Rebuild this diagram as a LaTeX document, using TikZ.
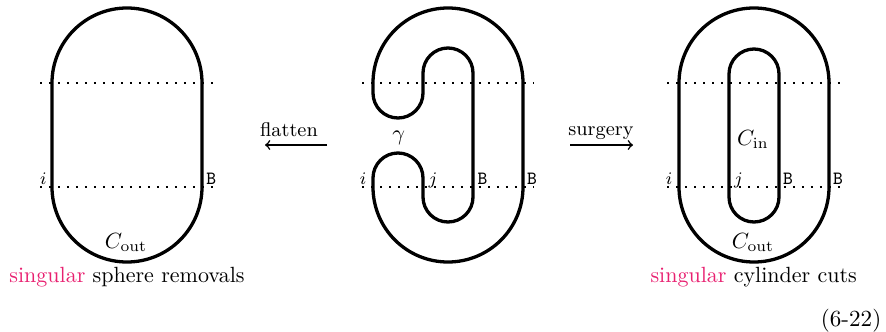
\documentclass[tikz,border=0pt]{standalone}
\usepackage{xcolor}
\definecolor{pinkred}{RGB}{232,32,112}
\begin{document}
\begin{tikzpicture}[x=0.4545pt,y=0.4545pt,
  curve/.style={line width=1.5pt, line join=round},
  dotline/.style={line width=0.9pt, dash pattern=on 0.9pt off 3.19pt},
  lbl/.style={inner sep=0pt, anchor=base, font=\fontsize{8.5}{10}\selectfont},
  txt/.style={inner sep=0pt, anchor=base},
  maplbl/.style={inner sep=0pt, anchor=base, font=\small},
  maparrow/.style={line width=0.7pt, ->}]
\useasboundingbox (0,0) rectangle (886,331);

% dotted levels
\draw[dotline] (40,248) -- (214,248);
\draw[dotline] (40,144) -- (214,144);
\draw[dotline] (362,248) -- (534,248);
\draw[dotline] (362,144) -- (534,144);
\draw[dotline] (667,248) -- (840,248);
\draw[dotline] (667,144) -- (840,144);

% left figure
\draw[curve] (52,248) -- (52,144) arc[start angle=180,end angle=360,radius=75]
  -- (202,248) arc[start angle=0,end angle=180,radius=75] -- cycle;

% middle figure
\draw[curve] (373,248) -- (373,238) arc[start angle=180,end angle=360,radius=25]
  -- (423,258) arc[start angle=180,end angle=0,radius=25]
  -- (473,134) arc[start angle=0,end angle=-180,radius=25]
  -- (423,153) arc[start angle=0,end angle=180,radius=25]
  -- (373,144) arc[start angle=180,end angle=360,radius=75]
  -- (523,248) arc[start angle=0,end angle=180,radius=75] -- cycle;

% right figure
\draw[curve] (679,248) -- (679,144) arc[start angle=180,end angle=360,radius=75]
  -- (829,248) arc[start angle=0,end angle=180,radius=75] -- cycle;
\draw[curve] (729,257) -- (729,134) arc[start angle=180,end angle=360,radius=25]
  -- (779,257) arc[start angle=0,end angle=180,radius=25] -- cycle;

% labels left
\node[lbl] (li) at (43.3,147) {$i$};
\node[lbl] (lB) at (211.3,147) {\texttt{B}};
\node[txt] (lC) at (126,83) {$C_{\mathrm{out}}$};
\node[txt] (lcap) at (127,48.3) {\textcolor{pinkred}{singular} sphere removals};

% labels middle
\node[lbl] (mi) at (363,147) {$i$};
\node[lbl] (mj) at (433,147) {$j$};
\node[lbl] (mB1) at (482.5,147) {\texttt{B}};
\node[lbl] (mB2) at (532,147) {\texttt{B}};
\node[txt] (mg) at (398.7,191) {$\gamma$};

% labels right
\node[lbl] (ri) at (669,147) {$i$};
\node[lbl] (rj) at (738.5,147) {$j$};
\node[lbl] (rB1) at (788,147) {\texttt{B}};
\node[lbl] (rB2) at (838,147) {\texttt{B}};
\node[txt] (rCin) at (753,186) {$C_{\mathrm{in}}$};
\node[txt] (rCout) at (753,83) {$C_{\mathrm{out}}$};
\node[txt] (rcap) at (753.7,48.3) {\textcolor{pinkred}{singular} cylinder cuts};

% maps
\coordinate (fa) at (327,186);
\coordinate (fb) at (265,186);
\draw[maparrow] (fa) -- (fb);
\node[maplbl] (flat) at (289,194.5) {flatten};
\coordinate (sa) at (570,186);
\coordinate (sb) at (633,186);
\draw[maparrow] (sa) -- (sb);
\node[maplbl] (surg) at (601,195.5) {surgery};

% equation number
\node[inner sep=0pt, anchor=base east, font=\fontsize{10.5}{12}\selectfont] (eq) at (881.7,4.3) {(6-22)};
\end{tikzpicture}
\end{document}
